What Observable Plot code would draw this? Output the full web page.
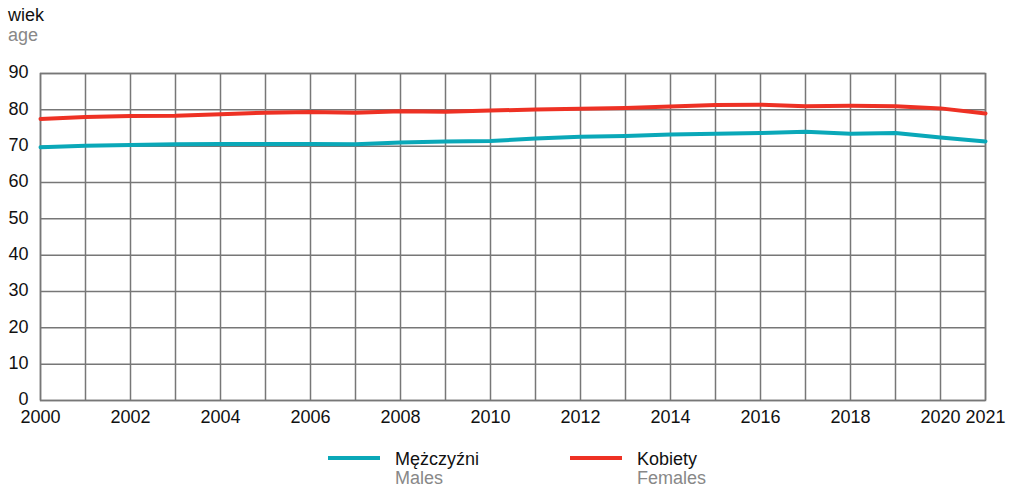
<!DOCTYPE html>
<html><head><meta charset="utf-8">
<script src="https://cdn.jsdelivr.net/npm/d3@7"></script>
<script src="https://cdn.jsdelivr.net/npm/@observablehq/plot@0.6"></script>
<style>
body{margin:0;background:#fff;font-family:"Liberation Sans",Arial,sans-serif;overflow:hidden;}
#title{height:60px;position:relative;}
#title .a{position:absolute;left:8px;top:5px;font-size:18px;color:#111;}
#title .b{position:absolute;left:8px;top:25px;font-size:18px;color:#888;}
#legend{position:relative;height:57px;}
.li{position:absolute;top:28px;}
.li .sw{position:absolute;top:-2px;width:52px;height:4px;}
.li .t1{position:absolute;left:67px;top:-8px;font-size:18px;line-height:19px;color:#111;white-space:nowrap;}
.li .t2{position:absolute;left:67px;top:11px;font-size:18px;line-height:19px;color:#888;white-space:nowrap;}
</style></head><body>
<div id="title"><div class="a">wiek</div><div class="b">age</div></div>
<div id="chart"></div>
<div id="legend"></div>
<script>
const years = [2000,2001,2002,2003,2004,2005,2006,2007,2008,2009,2010,2011,2012,2013,2014,2015,2016,2017,2018,2019,2020,2021];
const males = [69.7,70.1,70.3,70.5,70.6,70.6,70.6,70.5,71.0,71.3,71.4,72.1,72.6,72.8,73.2,73.4,73.6,74.0,73.4,73.6,72.4,71.3];
const females = [77.5,78.0,78.3,78.4,78.8,79.2,79.4,79.2,79.6,79.5,79.8,80.1,80.3,80.5,80.9,81.3,81.4,81.0,81.1,81.0,80.4,79.0];
const xTicks = [2000,2002,2004,2006,2008,2010,2012,2014,2016,2018,2020,2021];
const yTicks = [0,10,20,30,40,50,60,70,80,90];
const seriesNames = [["Mężczyźni","Males"],["Kobiety","Females"]];
const colors = ["#0aa8b8","#ee3124"];

const data = [];
years.forEach((y,i)=>{
  data.push({year:y, value:males[i], s:"M"});
  data.push({year:y, value:females[i], s:"K"});
});

const chart = Plot.plot({
  width:1009, height:370,
  marginLeft:40, marginRight:24, marginTop:13, marginBottom:30,
  style:{fontFamily:"Liberation Sans, Arial, sans-serif", fontSize:"18px", color:"#111"},
  x:{domain:[2000,2021], label:null},
  y:{domain:[0,90], label:null},
  color:{domain:["M","K"], range:colors},
  marks:[
    Plot.gridX(years,{stroke:"#777", strokeOpacity:1, strokeWidth:1.5}),
    Plot.gridY(yTicks,{stroke:"#777", strokeOpacity:1, strokeWidth:1.5}),
    Plot.frame({stroke:"#777", strokeWidth:1.5}),
    Plot.lineY(data,{x:"year", y:"value", stroke:"s", strokeWidth:4}),
    Plot.axisX({ticks:xTicks, tickFormat:d=>String(d), tickSize:0, tickPadding:10, fontSize:18}),
    Plot.axisY({ticks:yTicks, tickSize:0, tickPadding:12, fontSize:18, dy:-1})
  ]
});
document.getElementById("chart").appendChild(chart);

const leg = document.getElementById("legend");
const lefts = [328,570];
seriesNames.forEach((n,i)=>{
  const d = document.createElement("div");
  d.className="li"; d.style.left=lefts[i]+"px";
  d.innerHTML = `<div class="sw" style="background:${colors[i]}"></div><div class="t1">${n[0]}</div><div class="t2">${n[1]}</div>`;
  leg.appendChild(d);
});
</script>
</body></html>
